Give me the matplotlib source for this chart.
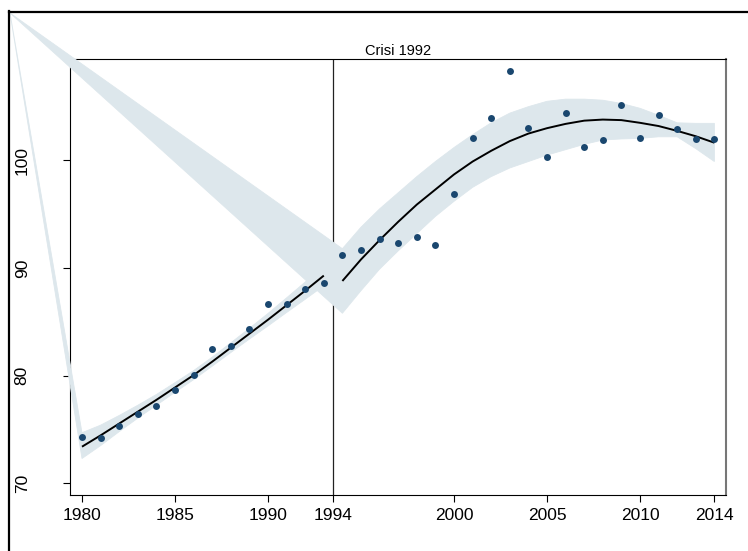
import matplotlib
matplotlib.use("Agg")
import matplotlib.pyplot as plt
from matplotlib.lines import Line2D

plt.rcParams['font.family'] = ['Liberation Sans', 'DejaVu Sans']

# ---- data ----
years_pre = [1980, 1981, 1982, 1983, 1984, 1985, 1986, 1987, 1988, 1989, 1990, 1991, 1992, 1993]
values_pre = [74.33, 74.24, 75.33, 76.44, 77.21, 78.67, 80.04, 82.48, 82.73, 84.37, 86.66, 86.66, 88.03, 88.64]
fit_pre = [73.4, 74.45, 75.55, 76.65, 77.75, 78.9, 80.05, 81.3, 82.6, 83.9, 85.2, 86.55, 87.9, 89.3]
ci_pre_hi = [74.7, 75.40, 76.30, 77.25, 78.25, 79.35, 80.47, 81.72, 83.05, 84.40, 85.78, 87.23, 88.70, 90.25]
ci_pre_lo = [72.3, 73.50, 74.80, 76.05, 77.25, 78.45, 79.63, 80.88, 82.15, 83.40, 84.62, 85.87, 87.10, 88.35]

years_post = [1994, 1995, 1996, 1997, 1998, 1999, 2000, 2001, 2002, 2003, 2004,
              2005, 2006, 2007, 2008, 2009, 2010, 2011, 2012, 2013, 2014]
values_post = [91.24, 91.68, 92.70, 92.36, 92.89, 92.12, 96.86, 102.09, 103.98, 108.35, 102.99,
               100.35, 104.41, 101.23, 101.88, 105.19, 102.12, 104.23, 102.96, 102.03, 102.03]
fit_post = [88.8, 90.8, 92.6, 94.3, 95.9, 97.3, 98.7, 99.9, 100.9, 101.8, 102.5,
            103.0, 103.4, 103.7, 103.8, 103.75, 103.5, 103.2, 102.75, 102.25, 101.65]
ci_post_hi = [91.8, 93.8, 95.5, 97.0, 98.5, 99.9, 101.2, 102.4, 103.5, 104.4, 105.0,
              105.5, 105.7, 105.7, 105.6, 105.3, 104.85, 104.2, 103.5, 103.45, 103.45]
ci_post_lo = [85.8, 87.9, 89.9, 91.6, 93.2, 94.8, 96.2, 97.5, 98.5, 99.3, 99.9,
              100.5, 101.0, 101.5, 101.9, 102.0, 102.05, 102.2, 102.2, 101.1, 99.9]

crisis_x = 1993.5
xtick_pos = [1980, 1985, 1990, 1993.5, 2000, 2005, 2010, 2014]
xtick_labels = ['1980', '1985', '1990', '1994', '2000', '2005', '2010', '2014']
ytick_pos = [70, 80, 90, 100]
title = 'Crisi 1992'

# ---- styles ----
W, H = 748, 551
band_color = '#dde7ec'
dot_color = '#1a476f'
anchor_px = (10, 13)  # graph-region corner where the CI polygons are anchored

fig = plt.figure(figsize=(W / 100, H / 100), dpi=100)
fig.patch.set_facecolor('white')
ax = fig.add_axes([70 / W, 1 - 495 / H, 656 / W, 436 / H])
ax.set_xlim(1979.355, 2014.624)
ax.set_ylim(68.91, 109.43)

# outer graph frame (top and left edges)
fig.add_artist(Line2D([anchor_px[0] / W - 0.0015, 1.0], [1 - 12 / H] * 2, transform=fig.transFigure,
                      color='black', lw=1.6))
fig.add_artist(Line2D([9 / W] * 2, [0, 1 - 12 / H + 0.002], transform=fig.transFigure,
                      color='black', lw=1.6))

# vertical crisis line
ax.axvline(crisis_x, color='#222222', lw=0.9, zorder=1)

# anchor point in data coordinates
disp = fig.transFigure.transform((anchor_px[0] / W, 1 - anchor_px[1] / H))
ax_anchor = ax.transData.inverted().transform(disp)


def band(xs, hi, lo):
    px = [ax_anchor[0]] + list(xs) + list(xs[::-1]) + [ax_anchor[0]]
    py = [ax_anchor[1]] + list(hi) + list(lo[::-1]) + [ax_anchor[1]]
    ax.fill(px, py, facecolor=band_color, edgecolor=band_color, lw=0.6,
            joinstyle='miter', zorder=3, clip_on=False)


band(years_pre, ci_pre_hi, ci_pre_lo)
band(years_post, ci_post_hi, ci_post_lo)

ax.plot(years_pre, fit_pre, color='black', lw=1.4, zorder=4, solid_capstyle='butt')
ax.plot(years_post, fit_post, color='black', lw=1.4, zorder=4, solid_capstyle='butt')

ax.scatter(years_pre, values_pre, s=25, color=dot_color, zorder=5, linewidths=0)
ax.scatter(years_post, values_post, s=25, color=dot_color, zorder=5, linewidths=0)

# axes styling
for side in ['left', 'bottom', 'top']:
    ax.spines[side].set_color('black')
    ax.spines[side].set_linewidth(0.8)
ax.spines['right'].set_color('#777777')
ax.spines['right'].set_linewidth(1.5)

ax.set_xticks(xtick_pos)
ax.set_xticklabels(xtick_labels)
ax.set_yticks(ytick_pos)
ax.set_yticklabels([str(v) for v in ytick_pos], rotation=90, va='center')
ax.tick_params(axis='both', direction='out', length=5, width=0.8, color='black', labelsize=12.5)
ax.tick_params(axis='x', pad=4)
ax.tick_params(axis='y', pad=24)

ax.set_title(title, fontsize=10.5, pad=3)

fig.savefig('out.png', dpi=100, facecolor='white')
